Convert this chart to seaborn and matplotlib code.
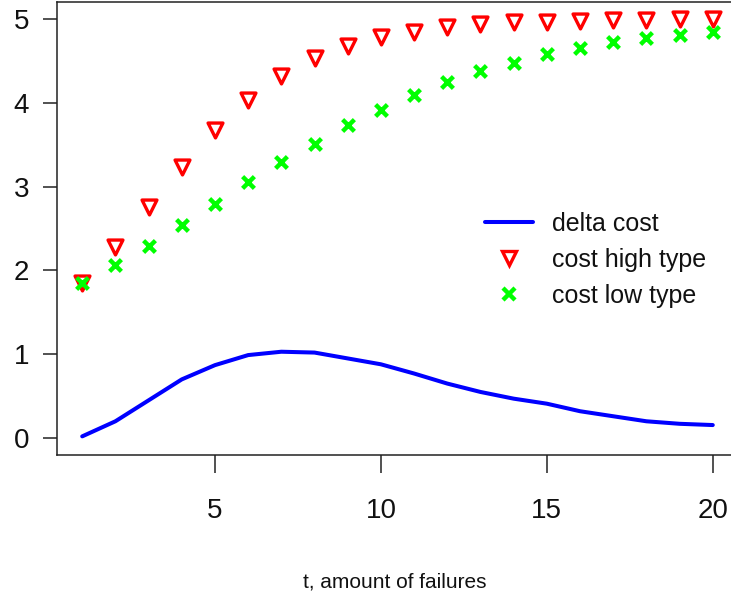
import matplotlib
matplotlib.use("Agg")
import matplotlib.pyplot as plt
from matplotlib.lines import Line2D
import seaborn as sns
import pandas as pd

t = list(range(1, 21))
cost_high = [1.85, 2.28, 2.76, 3.23, 3.68, 4.03, 4.32, 4.54, 4.68, 4.79,
             4.85, 4.90, 4.94, 4.96, 4.97, 4.98, 4.99, 4.99, 5.00, 5.00]
cost_low = [1.85, 2.07, 2.29, 2.54, 2.79, 3.05, 3.29, 3.51, 3.73, 3.92,
            4.09, 4.25, 4.38, 4.48, 4.58, 4.65, 4.73, 4.77, 4.81, 4.85]
delta_cost = [0.02, 0.20, 0.45, 0.70, 0.87, 0.99, 1.03, 1.02, 0.95, 0.88,
              0.77, 0.65, 0.55, 0.47, 0.41, 0.32, 0.26, 0.20, 0.17, 0.155]
xticks = [5, 10, 15, 20]
yticks = [0, 1, 2, 3, 4, 5]
xlabel = "t, amount of failures"
labels = ["delta cost", "cost high type", "cost low type"]

df = pd.DataFrame({"t": t, "high": cost_high, "low": cost_low, "delta": delta_cost})

sns.set_style("ticks")
plt.rcParams["font.family"] = ["Liberation Sans", "DejaVu Sans"]

W, H = 731, 599
fig = plt.figure(figsize=(W / 100, H / 100), dpi=100)
ax = fig.add_axes([57 / W, (H - 454.8) / H, 681 / W, 452.5 / H])

sns.lineplot(data=df, x="t", y="delta", ax=ax, color="#0000ff", linewidth=2.9,
             legend=False)
sns.scatterplot(data=df, x="t", y="high", ax=ax, marker="v", s=115,
                facecolor="white", edgecolor="#ff0000", linewidth=2.4,
                legend=False, zorder=3)
sns.scatterplot(data=df, x="t", y="low", ax=ax, marker="x", s=72,
                color="#00ff00", linewidth=3.2, legend=False, zorder=4)

ax.set_xlim(0.24, 20.76)
ax.set_ylim(-0.2, 5.2)
ax.set_xticks(xticks)
ax.set_yticks(yticks)
ax.set_xlabel("")
ax.set_ylabel("")
for s in ax.spines.values():
    s.set_color("#222222")
    s.set_linewidth(1.1)
ax.tick_params(axis="x", length=13, width=1.1, color="#222222", pad=18,
               labelsize=20, labelcolor="#111111")
ax.tick_params(axis="y", length=10, width=1.1, color="#222222", pad=10,
               labelsize=20, labelcolor="#111111")

fig.text(395 / W, 1 - 582 / H, xlabel, ha="center", va="center", fontsize=15,
         color="#111111")

handles = [
    Line2D([], [], color="#0000ff", linewidth=2.9),
    Line2D([], [], linestyle="none", marker="v", markersize=10.5,
           markerfacecolor="white", markeredgecolor="#ff0000", markeredgewidth=2.4),
    Line2D([], [], linestyle="none", marker="x", markersize=8.5,
           color="#00ff00", markeredgewidth=3.2),
]
leg = ax.legend(handles, labels, loc="upper left",
                bbox_to_anchor=(485 / W, 1 - 212 / H),
                bbox_transform=fig.transFigure, frameon=False,
                prop={"size": 18},
                handlelength=1.9, handletextpad=0.8, labelspacing=0.48,
                borderpad=0.0, borderaxespad=0.0)
for txt in leg.get_texts():
    txt.set_color("#111111")

fig.savefig("out.png", dpi=100)
